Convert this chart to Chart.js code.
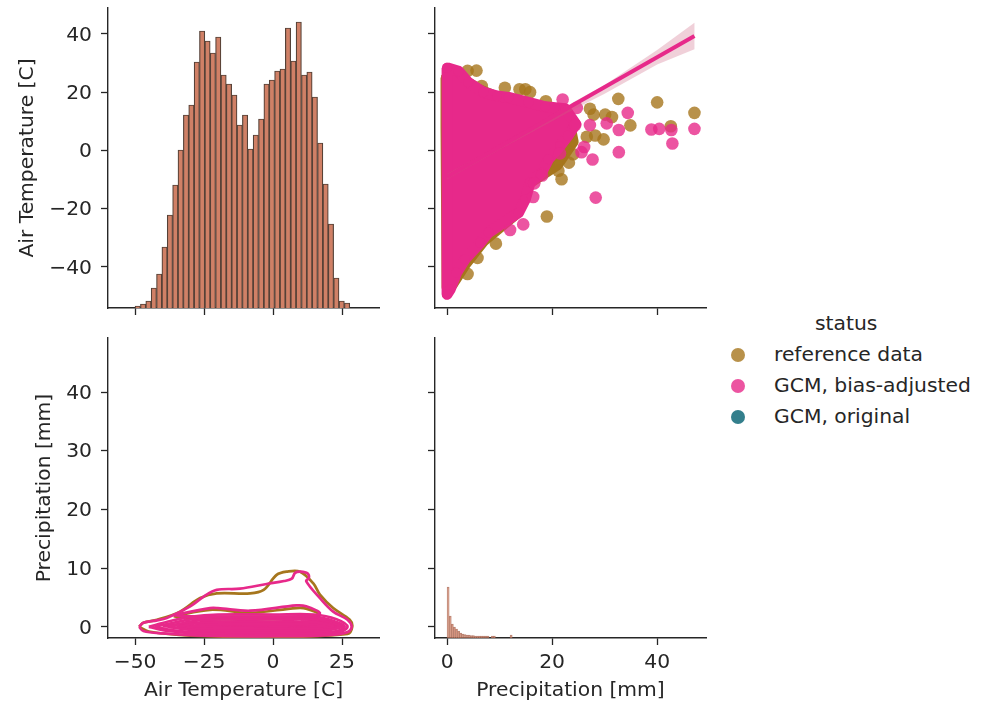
<!DOCTYPE html>
<html>
<head>
<meta charset="utf-8">
<title>Pair plot</title>
<script src="https://cdn.jsdelivr.net/npm/chart.js@4"></script>
<style>
  body { margin: 0; background: #fff; width: 996px; height: 703px; position: relative; overflow: hidden; }
  canvas { position: absolute; }
  #legend { position: absolute; left: 0; top: 0; font: 20.3px "DejaVu Sans", sans-serif; color: #262626; }
  #legend div { position: absolute; white-space: nowrap; }
</style>
</head>
<body>
<canvas id="tempHist" width="385" height="330" style="left:0;top:0"></canvas>
<canvas id="scatter" width="330" height="330" style="left:385px;top:0"></canvas>
<canvas id="kde" width="385" height="373" style="left:0;top:330px"></canvas>
<canvas id="precipHist" width="330" height="373" style="left:385px;top:330px"></canvas>
<div id="legend"></div>
<script>
const legendTitle = 'status'
const statusNames = ['reference data', 'GCM, bias-adjusted', 'GCM, original']
const statusColours = ['rgba(166,118,29,0.8)', 'rgba(231,41,138,0.8)', 'rgba(15,105,120,0.85)']

const tempTitle = 'Air Temperature [C]'
const precipTitle = 'Precipitation [mm]'
const tempTicksX = [-50, -25, 0, 25]
const tempTicksY = [-40, -20, 0, 20, 40]
const precipTicksX = [0, 20, 40]
const precipTicksY = [0, 10, 20, 30, 40]

// Air temperature histogram, bin centres and bar heights
const tempBins = [-49.03, -47.08, -45.14, -43.19, -41.25, -39.30, -37.36, -35.41, -33.47, -31.52, -29.58, -27.63, -25.69, -23.74, -21.80, -19.85, -17.91, -15.96, -14.02, -12.07, -10.13, -8.18, -6.24, -4.29, -2.35, -0.40, 1.54, 3.49, 5.43, 7.38, 9.32, 11.27, 13.21, 15.16, 17.10, 19.05, 20.99, 22.94, 24.88, 26.83]
const tempCounts = [2, 4, 7, 20, 34, 61, 93, 123, 158, 193, 203, 246, 277, 267, 255, 271, 233, 224, 213, 183, 193, 159, 173, 189, 224, 228, 237, 239, 280, 247, 286, 233, 236, 211, 165, 124, 84, 30, 7, 5]

// Precipitation histogram
const precipBins = [0.2, 0.6, 1.0, 1.4, 1.8, 2.2, 2.6, 3.0, 3.4, 3.8, 4.2, 4.6, 5.0, 5.4, 5.8, 6.2, 6.6, 7.0, 7.4, 7.8, 8.6, 9.0, 12.2]
const precipCounts = [51, 22, 14, 11, 9, 7, 5, 4, 3.5, 3, 3, 2.5, 2.5, 2, 2, 2, 2, 2, 2, 2, 2, 2, 3]

// Scatter, outline of the overplotted clouds and the points that stand alone
const referenceCloud = [[-0.2, 25], [0.5, 26.5], [3, 24.5], [6, 21], [10, 18], [15, 15.5], [19, 14.5], [23, 12], [24, 3], [21, -5], [15, -12], [13, -22], [7, -31], [3.5, -39], [1, -46], [0, -47], [-0.2, 8], [-0.2, 25]]
const referenceOutliers = [[5.6, 27.4], [3.9, 27.3], [6.6, 22.1], [11, 21.5], [13.8, 21], [14.9, 21], [15.8, 20], [18.8, 16.9], [32.6, 17.7], [40, 16.5], [47.1, 12.9], [42.6, 8.3], [34.9, 8.6], [27.2, 14.3], [30.1, 12.3], [31.4, 11.5], [29.8, 3.8], [23.2, -4.2], [24, -1.3], [21.2, -7], [21.8, -9.9], [19, -22.7], [9.3, -32], [5.8, -36.9], [3.9, -42.4], [27.9, 12.3], [19.2, -4.8], [28.2, 5.1], [26.6, 4.7], [14.2, -8.2]]
const adjustedCloud = [[0, 28.4], [2.2, 27.2], [4, 23.4], [6.9, 20], [9.5, 18.7], [11.7, 18.2], [15.5, 16.5], [18.7, 15], [22.5, 14.3], [24.5, 9], [23, 5], [21.5, 1.5], [19.3, -3], [18, -7.6], [15.8, -11], [14.9, -16.8], [13.6, -21.4], [7.9, -28.2], [6.3, -31.7], [3.4, -37.4], [1.8, -42], [0.6, -47.7], [0, -49.4], [0, 28.4]]
const adjustedOutliers = [[22, 17.5], [24.7, 14.6], [34.4, 12.9], [32.7, 7], [38.9, 7.2], [40.4, 7.4], [42.7, 7], [42.9, 2.4], [47.1, 7.4], [32.7, -0.6], [27.7, -3.1], [28.3, -16.2], [25.6, -0.6], [26.1, 1.2], [24.4, 8.7], [21.5, -1], [27.2, 8.7], [30.4, 9.3], [18.1, -8.6], [16.6, -11.3], [16.4, -16], [14.5, -25.4], [12, -27.3]]
const fitLine = [[0, -9], [47.1, 39.3]]
const fitBand = [[0, -8], [10, 1.7], [20, 12.2], [24, 16.5], [30, 22.5], [40, 34.5], [47.1, 43.8], [47.1, 34.7], [40, 29.5], [30, 19.5], [24, 14], [20, 10], [10, 0.3], [0, -10], [0, -8]]

// KDE contours
const kdeReference = [
  [[-48.5, 0], [-47, 0.7], [-42, 1.2], [-33.7, 2.6], [-26.4, 4.9], [-20.4, 5.7], [-8.3, 5.7], [-3.4, 6.3], [1.3, 8.85], [4.9, 9.4], [9.8, 9.4], [14.6, 7.4], [17, 5.5], [21.8, 3.2], [27.8, 1.2], [28.7, 0], [27, -1.2], [0, -1.7], [-30, -1.5], [-45, -0.8], [-48.5, 0]],
  [[-36, 1.8], [-22.8, 2.9], [-8.3, 2.4], [8.5, 3.2], [12, 3.1], [17, 2], [10, 1.4], [-30, 1.4], [-36, 1.8]],
  [[-15, 0.1], [-8, 0.15], [-2, 0.1], [-8, -0.1], [-15, 0.1]]
]
const kdeAdjusted = [
  [[-48.5, 0], [-47, 0.7], [-42, 1.1], [-38.5, 1.5], [-30, 3.5], [-25, 5.2], [-20.4, 6.3], [-12, 6.5], [-2.3, 7.3], [4, 7.8], [6.8, 8.2], [8, 9.2], [10, 9.4], [12.5, 9.1], [13, 8.3], [12, 7.8], [17, 4.9], [21.8, 2.6], [27, 1.2], [28.5, 0], [27, -0.9], [20, -1.4], [0, -1.6], [-25, -1.5], [-40, -1.1], [-47, -0.7], [-48.5, 0]],
  [[-36, 2], [-22.8, 3.2], [-20, 3.2], [-8.3, 2.75], [8.5, 3.65], [12, 3.5], [17, 2.3], [10, 1.8], [-30, 1.8], [-36, 2]],
  [[-45, 0], [-38, 0.9], [-30, 1.7], [-20, 2.1], [0, 2.1], [15, 2.1], [23, 1.3], [27, 0], [23, -1], [0, -1.3], [-25, -1.2], [-38, -0.7], [-45, 0]],
  [[-43, 0], [-36, 0.7], [-28, 1.4], [-15, 1.7], [0, 1.7], [15, 1.7], [22, 1], [26, 0], [22, -0.8], [0, -1], [-25, -1], [-36, -0.6], [-43, 0]],
  [[-38, 0], [-32, 0.7], [-25, 1.2], [0, 1.3], [18, 1.2], [24.5, 0], [18, -0.6], [0, -0.7], [-25, -0.7], [-32, -0.4], [-38, 0]],
  [[-35, 0], [-25, 0.8], [0, 0.9], [15, 0.8], [22, 0], [15, -0.35], [0, -0.4], [-25, -0.4], [-35, 0]],
  [[-33, 0], [-22, 0.45], [0, 0.5], [14, 0.45], [21, 0], [14, -0.1], [0, -0.1], [-22, -0.1], [-33, 0]],
  [[-30, 0.1], [-20, 0.2], [-5, 0.2], [10, 0.2], [18, 0.1], [10, 0], [-5, 0], [-20, 0], [-30, 0.1]],
  [[-40, 0.1], [-30, 0.6], [0, 0.6], [20, 0.6], [25.5, 0.1], [20, -0.3], [0, -0.3], [-30, -0.3], [-40, 0.1]],
  [[5, 0.3], [20, 0.3], [24, 0.1], [20, -0.1], [5, -0.1], [5, 0.3]],
  [[10, 0.9], [20, 0.9], [25, 0.4], [20, 0.2], [10, 0.4], [10, 0.9]]
]

const ink = '#262626'
const font = { family: 'DejaVu Sans', size: 20.3 }
const brown = 'rgb(166,118,29)'
const pink = 'rgb(231,41,138)'
const barFill = 'rgb(208,128,102)'
const barEdge = 'rgb(85,65,55)'

const fmt = v => String(v).replace('-', '\u2212')

function axis(min, max, tickValues, opts) {
  return {
    type: 'linear',
    min: min,
    max: max,
    offset: false,
    afterBuildTicks: a => { a.ticks = tickValues.map(v => ({ value: v })) },
    afterFit: a => {
      if (opts.width) a.width = opts.width
      if (opts.height) a.height = opts.height
      a.paddingTop = a.paddingBottom = a.paddingLeft = a.paddingRight = 0
    },
    grid: { offset: false, drawOnChartArea: false, drawTicks: true, tickLength: 7, tickWidth: 1.3, tickColor: ink },
    border: { display: true, color: ink, width: 1.4 },
    ticks: {
      display: opts.labels !== false,
      color: ink,
      font: font,
      padding: opts.pad,
      labelOffset: opts.width ? 1.5 : 0,
      autoSkip: false,
      maxRotation: 0,
      callback: fmt
    },
    title: {
      display: !!opts.title,
      text: opts.title,
      color: ink,
      font: font,
      padding: opts.titlePad
    }
  }
}

function panel(id, type, datasets, scales, right) {
  return new Chart(document.getElementById(id), {
    type: type,
    data: { datasets: datasets },
    options: {
      responsive: false,
      animation: false,
      devicePixelRatio: 1,
      events: [],
      layout: { padding: { top: 8, right: right, left: 0, bottom: 0 } },
      plugins: { legend: { display: false }, tooltip: { enabled: false } },
      scales: scales
    }
  })
}

const hiddenCount = max => ({ type: 'linear', display: false, min: 0, max: max })

function bars(bins, counts, edge, edgeWidth) {
  return {
    data: bins.map((b, i) => ({ x: b, y: counts[i] })),
    yAxisID: 'count',
    backgroundColor: barFill,
    borderColor: edge,
    borderWidth: edgeWidth,
    barPercentage: 1,
    categoryPercentage: 1
  }
}

// Top left
panel('tempHist', 'bar', [bars(tempBins, tempCounts, barEdge, 1.2)], {
  x: axis(-59.8, 38.4, tempTicksX, { height: 22, labels: false }),
  y: axis(-54.1, 48.9, tempTicksY, { width: 108, pad: 9, title: tempTitle, titlePad: { top: 16 } }),
  count: hiddenCount(300)
}, 6)

// Top right
const cloud = (pts, colour, order) => ({
  data: pts, showLine: true, fill: 'shape', tension: 0,
  backgroundColor: colour, borderColor: colour, borderWidth: 11, borderJoinStyle: 'round',
  pointRadius: 5, pointBackgroundColor: colour, pointBorderWidth: 0, order: order
})
const dots = (pts, colour, order) => ({
  data: pts, pointRadius: 6.3, pointBackgroundColor: colour, pointBorderWidth: 0, order: order
})
panel('scatter', 'scatter', [
  cloud(referenceCloud, brown, 6),
  dots(referenceOutliers, statusColours[0], 5),
  cloud(adjustedCloud, pink, 4),
  dots(adjustedOutliers, statusColours[1], 3),
  { data: fitBand, showLine: true, fill: 'shape', tension: 0, borderWidth: 0, pointRadius: 0, backgroundColor: 'rgba(205,100,130,0.3)', order: 2 },
  { data: fitLine, showLine: true, tension: 0, borderWidth: 4, pointRadius: 0, borderColor: pink, order: 1 }
], {
  x: axis(-2.3, 49.3, precipTicksX, { height: 22, labels: false }),
  y: axis(-54.1, 48.9, tempTicksY, { width: 50, labels: false })
}, 9)

// Bottom left
const contour = (pts, colour, order) => ({
  data: pts, showLine: true, tension: 0.35, borderColor: colour, borderWidth: 2.7, pointRadius: 0, order: order
})
panel('kde', 'scatter', [
  ...kdeReference.map(c => contour(c, brown, 3)),
  ...kdeAdjusted.map(c => contour(c, pink, 2))
], {
  x: axis(-59.8, 38.4, tempTicksX, { height: 65, pad: 6, title: tempTitle, titlePad: { bottom: 0 } }),
  y: axis(-1.9, 49.2, precipTicksY, { width: 108, pad: 9, title: precipTitle, titlePad: { top: 33 } })
}, 6)

// Bottom right
panel('precipHist', 'bar', [bars(precipBins, precipCounts, 'rgba(170,105,85,0.8)', 1)], {
  x: axis(-2.3, 49.3, precipTicksX, { height: 65, pad: 6, title: precipTitle, titlePad: { bottom: 0 } }),
  y: axis(-1.9, 49.2, precipTicksY, { width: 50, labels: false }),
  count: hiddenCount(300)
}, 9)

// Figure legend
const legend = document.getElementById('legend')
const titleEl = document.createElement('div')
titleEl.textContent = legendTitle
titleEl.style.cssText = 'left:815px;top:311px'
legend.appendChild(titleEl)
statusNames.forEach((name, i) => {
  const y = 342 + i * 31
  const label = document.createElement('div')
  label.textContent = name
  label.style.cssText = 'left:774px;top:' + y + 'px'
  legend.appendChild(label)
  const marker = document.createElement('div')
  marker.style.cssText = 'left:731px;top:' + (y + 6) + 'px;width:14px;height:14px;border-radius:50%;background:' + statusColours[i]
  legend.appendChild(marker)
})
</script>
</body>
</html>
